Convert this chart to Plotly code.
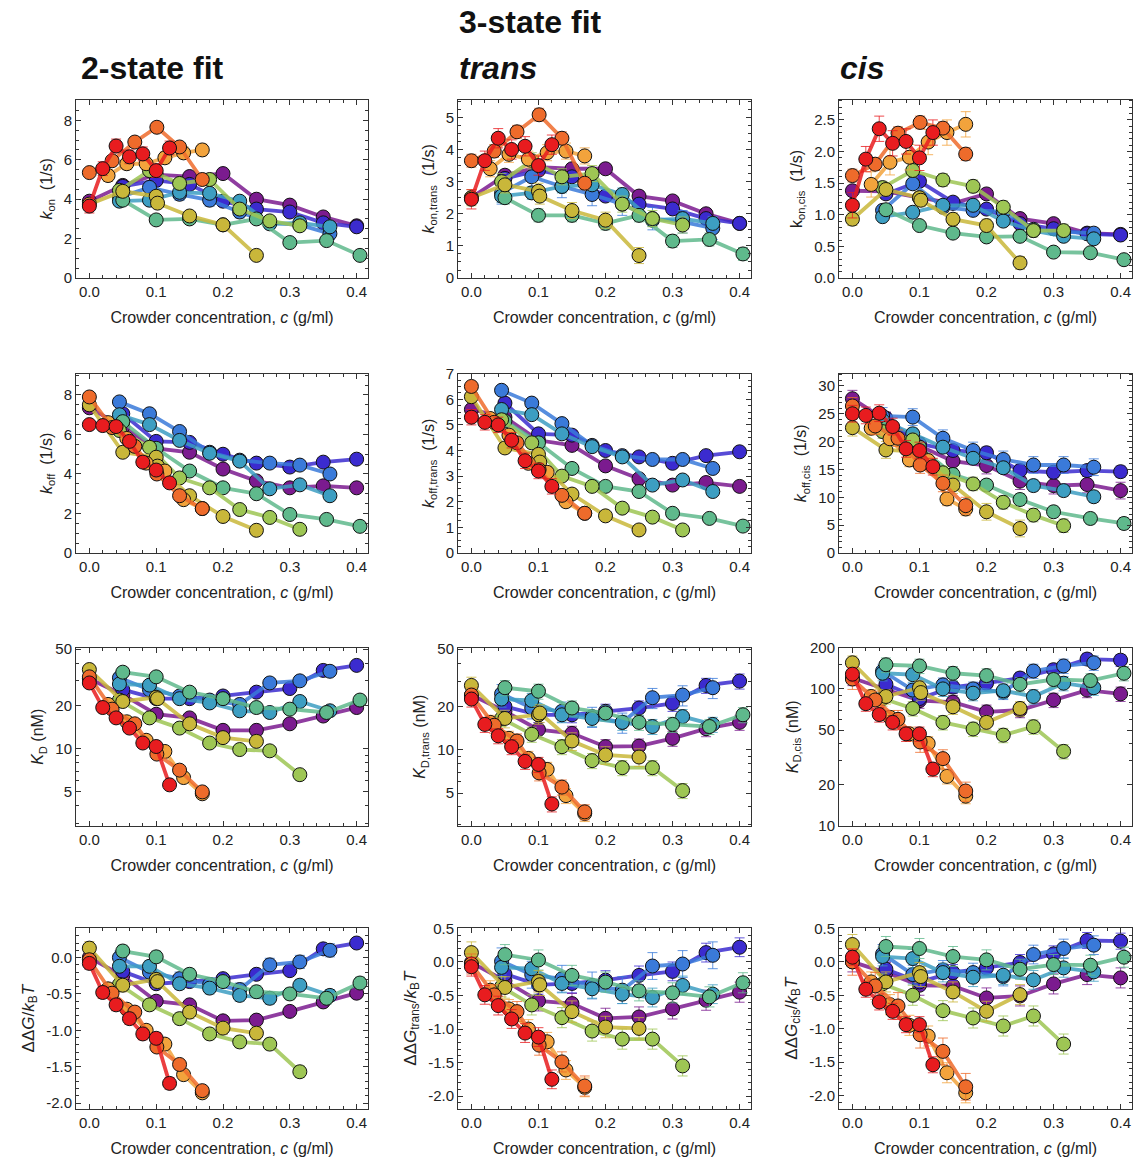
import plotly.graph_objects as go
from plotly.subplots import make_subplots

# ---------------- data ----------------
SERIES_NAMES = ["red", "dark orange", "light orange", "gold", "yellow-green",
                "green", "cyan", "blue", "indigo", "purple"]
COLORS = ["#e81c1f", "#ee6b2b", "#f2a33c", "#c9b73a", "#9ec654",
          "#5fb98c", "#3d9ec2", "#3a7ad9", "#3b2bcf", "#7b1b8f"]

X_RED = [0, 0.02, 0.04, 0.06, 0.08, 0.10, 0.12]
X_DORANGE = [0, 0.034, 0.068, 0.101, 0.135, 0.169]
X_LORANGE = [0.028, 0.056, 0.085, 0.113, 0.141, 0.169]
X_GOLD = [0, 0.05, 0.10, 0.102, 0.15, 0.20, 0.25]
X_YGREEN = [0.045, 0.09, 0.135, 0.18, 0.225, 0.27, 0.315]
X_GREEN = [0.05, 0.10, 0.15, 0.20, 0.25, 0.30, 0.355, 0.405]
X_CYAN = [0.045, 0.09, 0.135, 0.18, 0.225, 0.27, 0.315, 0.36]
X_BLUE = [0.045, 0.09, 0.135, 0.18, 0.225, 0.27, 0.315, 0.36]
X_INDIGO = [0.05, 0.10, 0.15, 0.20, 0.25, 0.30, 0.35, 0.40]
X_PURPLE = [0, 0.05, 0.10, 0.15, 0.20, 0.25, 0.30, 0.35, 0.40]
X_ALL = [X_RED, X_DORANGE, X_LORANGE, X_GOLD, X_YGREEN,
         X_GREEN, X_CYAN, X_BLUE, X_INDIGO, X_PURPLE]

KON_2 = [
    [3.65, 5.55, 6.7, 6.15, 6.3, 5.45, 6.6],
    [5.35, 5.95, 6.9, 7.65, 6.65, 5.0],
    [5.2, 5.8, 5.8, 6.1, 6.35, 6.5],
    [3.75, 4.4, 4.15, 3.8, 3.15, 2.7, 1.15],
    [4.45, 5.45, 4.8, 5.0, 3.5, 2.9, 2.65],
    [3.95, 2.95, 3.0, 2.7, 3.0, 1.8, 1.9, 1.15],
    [3.9, 3.95, 4.35, 4.3, 3.9, 2.75, 2.8, 2.6],
    [4.1, 4.6, 4.25, 3.95, 3.35, 2.8, 2.7, 2.25],
    [4.65, 4.95, 4.75, 3.9, 3.5, 3.35, 2.8, 2.6],
    [3.9, 4.7, 5.25, 5.15, 5.3, 4.0, 3.7, 3.1, 2.65],
]
KON_T = [
    [2.45, 3.65, 4.35, 4.0, 4.1, 3.5, 4.15],
    [3.65, 3.95, 4.55, 5.08, 4.35, 2.95],
    [3.4, 3.85, 3.7, 3.9, 3.95, 3.8],
    [2.5, 2.9, 2.7, 2.55, 2.1, 1.8, 0.7],
    [3.0, 3.65, 3.15, 3.25, 2.3, 1.85, 1.65],
    [2.5, 1.95, 1.95, 1.7, 1.95, 1.15, 1.2, 0.75],
    [2.55, 2.65, 2.85, 2.9, 2.6, 1.8, 1.85, 1.7],
    [2.65, 3.15, 2.85, 2.6, 2.3, 1.85, 1.75, 1.55],
    [3.1, 3.35, 3.15, 2.55, 2.3, 2.15, 1.85, 1.7],
    [2.5, 3.2, 3.45, 3.4, 3.4, 2.55, 2.4, 2.0, 1.7],
]
KON_C = [
    [1.15, 1.88, 2.36, 2.13, 2.16, 1.9, 2.3],
    [1.62, 1.8, 2.29, 2.46, 2.37, 1.96],
    [1.48, 1.83, 1.91, 2.15, 2.3, 2.43],
    [0.93, 1.4, 1.27, 1.23, 0.93, 0.83, 0.24],
    [1.43, 1.7, 1.55, 1.45, 1.12, 0.75, 0.75],
    [1.08, 0.83, 0.71, 0.65, 0.66, 0.41, 0.40, 0.29],
    [0.97, 1.04, 1.15, 1.15, 0.9, 0.75, 0.66, 0.62],
    [1.07, 1.49, 1.12, 1.07, 1.05, 0.77, 0.73, 0.71],
    [1.33, 1.53, 1.2, 1.09, 0.86, 0.78, 0.7, 0.68],
    [1.38, 1.37, 1.27, 1.18, 1.33, 0.94, 0.86, 0.71, 0.69],
]
KOFF_2 = [
    [6.5, 6.45, 6.4, 5.65, 4.6, 4.2, 3.55],
    [7.9, 6.35, 5.4, 4.0, 2.9, 2.25],
    [6.6, 5.8, 4.55, 4.15, 2.7, 2.25],
    [7.5, 5.1, 4.85, 4.4, 2.9, 1.85, 1.15],
    [6.2, 5.35, 3.8, 3.3, 2.2, 1.8, 1.2],
    [6.65, 5.3, 4.15, 3.3, 3.0, 1.95, 1.7, 1.35],
    [7.0, 6.5, 5.7, 5.05, 4.65, 3.25, 3.45, 2.9],
    [7.65, 7.05, 6.15, 5.1, 4.7, 4.55, 4.45, 4.0],
    [7.05, 5.65, 5.6, 5.0, 4.55, 4.35, 4.6, 4.75],
    [7.35, 6.4, 5.3, 5.1, 4.25, 3.65, 3.3, 3.4, 3.3],
]
KOFF_T = [
    [5.3, 5.1, 5.0, 4.4, 3.6, 3.2, 2.6],
    [6.5, 5.1, 4.3, 3.25, 2.25, 1.55],
    [5.25, 4.6, 3.5, 3.15, 2.0, 1.55],
    [6.1, 4.1, 3.85, 3.55, 2.3, 1.45, 0.9],
    [5.2, 4.3, 3.0, 2.6, 1.75, 1.4, 0.9],
    [5.15, 4.3, 3.3, 2.6, 2.4, 1.55, 1.35, 1.05],
    [5.6, 5.4, 4.65, 4.15, 3.75, 2.65, 2.85, 2.4],
    [6.35, 5.85, 5.05, 4.2, 3.8, 3.65, 3.65, 3.3],
    [5.85, 4.65, 4.6, 4.0, 3.75, 3.5, 3.8, 3.95],
    [5.6, 5.3, 4.4, 4.2, 3.4, 2.9, 2.65, 2.75, 2.6],
]
KOFF_C = [
    [25, 24.7, 25.1, 22.7, 18.7, 18.4, 15.5],
    [26.4, 22.8, 20.6, 15.8, 12.5, 8.5],
    [22.4, 20.5, 16.7, 16.6, 9.7, 7.9],
    [22.5, 18.5, 18.2, 17.5, 12.2, 7.4, 4.4],
    [21.8, 20.3, 14.4, 12.4, 9.1, 6.8, 4.9],
    [22.4, 19.0, 14.1, 12.2, 9.6, 7.4, 6.2, 5.3],
    [23.8, 21.4, 19.0, 17.0, 15.3, 12.1, 11.2, 10.1],
    [24.6, 24.4, 20.6, 18.4, 16.8, 15.8, 15.8, 15.4],
    [24.2, 19.6, 18.4, 18.0, 14.8, 14.5, 14.8, 14.6],
    [27.7, 23.8, 19.2, 16.5, 15.7, 12.9, 12.1, 12.3, 11.2],
]
KD_2 = [
    [29, 19.5, 16.5, 14, 11, 10.4, 5.6],
    [32, 19, 15, 9.2, 7.1, 5.0],
    [20.5, 15.5, 11.5, 9.6, 6.3, 4.85],
    [36, 21.5, 23, 22.5, 15, 12, 11.3],
    [22, 16.5, 14, 11, 9.9, 9.7, 6.6],
    [34.5, 32, 25, 22.5, 19.5, 19, 18, 22],
    [28.5, 28, 22.5, 21, 18.5, 18, 21.5, 18.5],
    [31.5, 26, 23.5, 22, 20.5, 29, 30, 35],
    [26, 22.5, 22.5, 23.5, 25, 26.5, 35.5, 38.5],
    [31, 24, 17.5, 16.5, 13.5, 13.5, 15, 17, 19.5],
]
KD_T = [
    [22.5, 15, 12.5, 10.5, 8.3, 7.9, 4.2],
    [24, 14.8, 11.5, 6.9, 5.5, 3.7],
    [15.5, 12, 8.7, 7.3, 4.8, 3.6],
    [28, 16.5, 17.5, 18, 11.5, 9.2, 8.9],
    [16.5, 12.8, 10.5, 8.4, 7.5, 7.5, 5.2],
    [27, 25.5, 19.5, 18, 15.5, 15, 14.5, 17.5],
    [22.5, 22, 17.5, 16.5, 15.5, 14.5, 17, 15],
    [24.5, 19.5, 18.5, 17, 15.5, 23, 24, 27],
    [20, 17.5, 17.5, 18.5, 19.5, 21, 28, 30],
    [24, 18.5, 13.8, 13, 10.5, 10.6, 12, 14, 15.5],
]
KD_C = [
    [128, 78, 65, 57, 47, 47, 26],
    [118, 83, 60, 41, 31, 18],
    [88, 62, 47, 40, 23, 16.5],
    [155, 88, 102, 94, 74, 57, 72],
    [85, 72, 57, 51, 46, 53, 35],
    [150, 147, 130, 125, 108, 117, 115, 130],
    [130, 127, 100, 93, 97, 88, 110, 102],
    [135, 98, 107, 100, 95, 135, 147, 155],
    [108, 85, 103, 110, 120, 138, 165, 162],
    [120, 100, 82, 80, 68, 70, 83, 98, 92],
]
DDG_2 = [
    [-0.08, -0.48, -0.65, -0.84, -1.05, -1.11, -1.73],
    [-0.03, -0.49, -0.75, -1.23, -1.47, -1.83],
    [-0.43, -0.71, -1.0, -1.19, -1.61, -1.86],
    [0.13, -0.38, -0.30, -0.33, -0.75, -0.97, -1.04],
    [-0.37, -0.65, -0.84, -1.05, -1.16, -1.19, -1.57],
    [0.09, 0.01, -0.23, -0.33, -0.47, -0.50, -0.56, -0.35],
    [-0.12, -0.12, -0.36, -0.42, -0.52, -0.56, -0.38, -0.52],
    [0.0, -0.2, -0.29, -0.37, -0.44, -0.1, -0.06, 0.10],
    [-0.19, -0.36, -0.33, -0.29, -0.23, -0.18, 0.12, 0.20],
    [0.0, -0.25, -0.60, -0.65, -0.87, -0.86, -0.74, -0.61, -0.49],
]
DDG_T = [
    [-0.07, -0.49, -0.65, -0.85, -1.06, -1.12, -1.75],
    [-0.03, -0.49, -0.74, -1.24, -1.49, -1.85],
    [-0.42, -0.70, -1.0, -1.19, -1.61, -1.87],
    [0.14, -0.38, -0.29, -0.34, -0.74, -0.97, -0.99],
    [-0.37, -0.64, -0.83, -1.03, -1.15, -1.15, -1.55],
    [0.11, 0.03, -0.20, -0.30, -0.43, -0.46, -0.52, -0.31],
    [-0.08, -0.10, -0.32, -0.40, -0.48, -0.53, -0.35, -0.48],
    [0.01, -0.19, -0.25, -0.35, -0.42, -0.06, -0.03, 0.10],
    [-0.18, -0.34, -0.32, -0.27, -0.20, -0.14, 0.14, 0.22],
    [-0.01, -0.28, -0.58, -0.62, -0.84, -0.82, -0.70, -0.57, -0.45],
]
DDG_C = [
    [0.07, -0.41, -0.60, -0.74, -0.94, -0.94, -1.54],
    [0.0, -0.36, -0.66, -1.09, -1.34, -1.87],
    [-0.30, -0.64, -0.95, -1.11, -1.66, -1.96],
    [0.26, -0.30, -0.16, -0.22, -0.45, -0.74, -0.49],
    [-0.33, -0.50, -0.73, -0.84, -0.96, -0.81, -1.23],
    [0.23, 0.20, 0.08, 0.03, -0.11, -0.04, -0.05, 0.07],
    [0.08, 0.05, -0.16, -0.23, -0.20, -0.27, -0.09, -0.15],
    [0.12, -0.19, -0.12, -0.16, -0.22, 0.11, 0.20, 0.25],
    [-0.11, -0.30, -0.16, -0.09, -0.01, 0.12, 0.32, 0.31],
    [0.0, -0.16, -0.35, -0.36, -0.54, -0.51, -0.33, -0.19, -0.24],
]

# typical error bar half-widths per series (red ... purple); KD panels in percent
ERR_KON_2 = [0.35, 0.2, 0.3, 0.2, 0.25, 0.2, 0.2, 0.3, 0.2, 0.15]
ERR_KON_T = [0.3, 0.2, 0.25, 0.25, 0.25, 0.2, 0.2, 0.35, 0.15, 0.15]
ERR_KON_C = [0.2, 0.1, 0.2, 0.1, 0.1, 0.05, 0.05, 0.08, 0.05, 0.08]
ERR_KOFF_2 = [0.15, 0.1, 0.1, 0.1, 0.1, 0.1, 0.1, 0.1, 0.1, 0.1]
ERR_KOFF_T = [0.3, 0.2, 0.15, 0.15, 0.15, 0.1, 0.1, 0.12, 0.1, 0.2]
ERR_KOFF_C = [1.5, 1.5, 1.2, 1.5, 1.2, 1.0, 1.0, 1.5, 1.0, 1.5]
ERR_KD_2 = [6, 6, 6, 7, 6, 7, 7, 8, 6, 6]
ERR_KD_T = [12, 12, 12, 14, 12, 12, 12, 16, 12, 12]
ERR_KD_C = [12, 16, 12, 12, 12, 12, 12, 12, 10, 12]
ERR_DDG_2 = [0.08, 0.07, 0.07, 0.09, 0.08, 0.08, 0.08, 0.09, 0.06, 0.06]
ERR_DDG_T = [0.14, 0.15, 0.14, 0.16, 0.15, 0.15, 0.14, 0.2, 0.14, 0.15]
ERR_DDG_C = [0.12, 0.2, 0.15, 0.15, 0.15, 0.15, 0.14, 0.14, 0.12, 0.15]

X_TICKS = [0.0, 0.1, 0.2, 0.3, 0.4]
X_TICK_TEXT = ["0.0", "0.1", "0.2", "0.3", "0.4"]
X_LABEL = "Crowder concentration, <i>c</i> (g/ml)"

# ---------------- figure ----------------
W, H = 1135, 1173
FONT = "Liberation Sans, Arial, sans-serif"

col_dom = [(76, 368), (458, 751), (839, 1132)]
row_dom = [(92, 273), (370, 552), (648, 829), (933, 1116)]

panels = [
    # row, col, data, err, ylabel, yrange, tickvals, ticktext, log, minor_dtick, title size
    (1, 1, KON_2, ERR_KON_2, "<i>k</i><sub>on</sub>  (1/s)", [0, 9.05],
     [0, 2, 4, 6, 8], ["0", "2", "4", "6", "8"], False, 0.5, 16),
    (1, 2, KON_T, ERR_KON_T, "<i>k</i><sub>on,trans</sub>  (1/s)", [0, 5.55],
     [0, 1, 2, 3, 4, 5], ["0", "1", "2", "3", "4", "5"], False, 0.25, 16),
    (1, 3, KON_C, ERR_KON_C, "k<sub>on,cis</sub>  (1/s)", [0, 2.82],
     [0, 0.5, 1.0, 1.5, 2.0, 2.5], ["0.0", "0.5", "1.0", "1.5", "2.0", "2.5"], False, 0.1, 16),
    (2, 1, KOFF_2, ERR_KOFF_2, "<i>k</i><sub>off</sub>  (1/s)", [0, 9.08],
     [0, 2, 4, 6, 8], ["0", "2", "4", "6", "8"], False, 0.5, 16),
    (2, 2, KOFF_T, ERR_KOFF_T, "<i>k</i><sub>off,trans</sub>  (1/s)", [0, 7.0],
     [0, 1, 2, 3, 4, 5, 6, 7], ["0", "1", "2", "3", "4", "5", "6", "7"], False, 0.25, 16),
    (2, 3, KOFF_C, ERR_KOFF_C, "<i>k</i><sub>off,cis</sub>  (1/s)", [0, 32.2],
     [0, 5, 10, 15, 20, 25, 30], ["0", "5", "10", "15", "20", "25", "30"], False, 1, 16),
    (3, 1, KD_2, ERR_KD_2, "<i>K</i><sub>D</sub> (nM)", [0.46, 1.71],
     [5, 10, 20, 50], ["5", "10", "20", "50"], True, None, 16),
    (3, 2, KD_T, ERR_KD_T, "<i>K</i><sub>D,trans</sub> (nM)", [0.47, 1.71],
     [5, 10, 20, 50], ["5", "10", "20", "50"], True, None, 16),
    (3, 3, KD_C, ERR_KD_C, "<i>K</i><sub>D,cis</sub> (nM)", [1.0, 2.301],
     [10, 20, 50, 100, 200], ["10", "20", "50", "100", "200"], True, None, 16),
    (4, 1, DDG_2, ERR_DDG_2, "ΔΔ<i>G</i>/<i>k</i><sub>B</sub><i>T</i>", [-2.08, 0.4],
     [-2.0, -1.5, -1.0, -0.5, 0.0], ["-2.0", "-1.5", "-1.0", "-0.5", "0.0"], False, 0.1, 17),
    (4, 2, DDG_T, ERR_DDG_T, "ΔΔ<i>G</i><sub>trans</sub>/<i>k</i><sub>B</sub><i>T</i>", [-2.19, 0.5],
     [-2.0, -1.5, -1.0, -0.5, 0.0, 0.5], ["-2.0", "-1.5", "-1.0", "-0.5", "0.0", "0.5"], False, 0.1, 17),
    (4, 3, DDG_C, ERR_DDG_C, "ΔΔ<i>G</i><sub>cis</sub>/<i>k</i><sub>B</sub><i>T</i>", [-2.2, 0.5],
     [-2.0, -1.5, -1.0, -0.5, 0.0, 0.5], ["-2.0", "-1.5", "-1.0", "-0.5", "0.0", "0.5"], False, 0.1, 17),
]

fig = make_subplots(rows=4, cols=3)

DRAW_ORDER = [9, 8, 7, 6, 5, 4, 3, 2, 1, 0]


def rgba(hexc, a):
    h = hexc.lstrip("#")
    r, g, b = int(h[0:2], 16), int(h[2:4], 16), int(h[4:6], 16)
    return f"rgba({r},{g},{b},{a})"


for (r, c, data, err, ylab, yr, tv, tt, is_log, mdt, tsize) in panels:
    for i in DRAW_ORDER:
        xs = X_ALL[i]
        ys = data[i]
        fig.add_trace(go.Scatter(
            x=xs, y=ys, mode="lines+markers", name=SERIES_NAMES[i],
            showlegend=False,
            line=dict(color=rgba(COLORS[i], 0.85), width=3.8),
            marker=dict(size=14, color=COLORS[i],
                        line=dict(color="#111111", width=1)),
            error_y=dict(type="percent" if is_log else "constant",
                         value=err[i], visible=True,
                         color=rgba(COLORS[i], 0.8), thickness=1, width=5),
        ), row=r, col=c)

    xd = col_dom[c - 1]
    yd = row_dom[r - 1]
    fig.update_xaxes(
        domain=[xd[0] / W, xd[1] / W], range=[-0.02, 0.417],
        tickvals=X_TICKS, ticktext=X_TICK_TEXT,
        ticks="inside", ticklen=5, tickwidth=1, tickcolor="#333",
        minor=dict(ticks="inside", ticklen=3, dtick=0.02, tick0=0, tickcolor="#333"),
        showline=True, linecolor="#333", linewidth=1, mirror="ticks",
        showgrid=False, zeroline=False,
        tickfont=dict(size=15, color="#222", family=FONT),
        title=dict(text=X_LABEL, font=dict(size=16, color="#222", family=FONT), standoff=12),
        row=r, col=c)
    yargs = dict(
        domain=[1 - yd[1] / H, 1 - yd[0] / H], range=yr,
        tickvals=tv, ticktext=tt,
        ticks="inside", ticklen=5, tickwidth=1, tickcolor="#333",
        showline=True, linecolor="#333", linewidth=1, mirror="ticks",
        showgrid=False, zeroline=False,
        tickfont=dict(size=15, color="#222", family=FONT),
        title=dict(text=ylab, font=dict(size=tsize, color="#222", family=FONT), standoff=7),
    )
    if is_log:
        yargs["type"] = "log"
        yargs["minor"] = dict(ticks="inside", ticklen=3, tickcolor="#333",
                              tickvals=[3, 4, 6, 7, 8, 9, 30, 40, 60, 70, 80, 90, 150])
    else:
        yargs["minor"] = dict(ticks="inside", ticklen=3, dtick=mdt, tickcolor="#333")
    fig.update_yaxes(row=r, col=c, **yargs)

annotations = [
    dict(text="<b>3-state fit</b>", x=530 / W, y=1 - 13 / H, size=32),
    dict(text="<b>2-state fit</b>", x=152 / W, y=1 - 60 / H, size=32),
    dict(text="<b><i>trans</i></b>", x=498 / W, y=1 - 60 / H, size=32),
    dict(text="<b><i>cis</i></b>", x=862 / W, y=1 - 60 / H, size=32),
]
for a in annotations:
    fig.add_annotation(text=a["text"], x=a["x"], y=a["y"], xref="paper", yref="paper",
                       showarrow=False, xanchor="center", yanchor="middle",
                       font=dict(size=a["size"], color="#111", family=FONT))

fig.update_layout(
    width=W, height=H,
    margin=dict(l=0, r=0, t=0, b=0),
    paper_bgcolor="white", plot_bgcolor="white",
    font=dict(family=FONT, color="#222"),
    showlegend=False,
)

fig.write_html("out.html")
